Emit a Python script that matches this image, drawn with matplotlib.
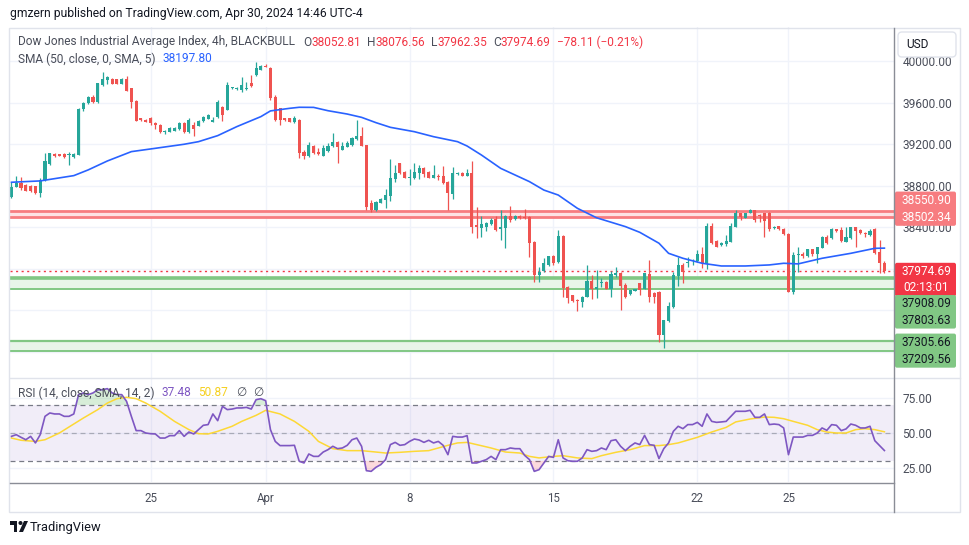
import matplotlib
matplotlib.use('Agg')
import matplotlib.pyplot as plt
import numpy as np
from matplotlib.patches import Rectangle, FancyBboxPatch, Polygon, Circle

plt.rcParams['font.family'] = ['Roboto', 'DejaVu Sans']

W, H = 970, 545

# 4h candles, Dow Jones (BLACKBULL)
open_ = [38694, 38790, 38829, 38806, 38797, 38797, 38726, 38854, 39005, 39108,
         39101, 39101, 39095, 39073, 39095, 39538, 39593, 39650, 39602, 39769,
         39817, 39827, 39824, 39779, 39827, 39737, 39618, 39448, 39432, 39455,
         39400, 39384, 39313, 39320, 39329, 39345, 39400, 39320, 39384, 39378,
         39422, 39442, 39416, 39464, 39560, 39528, 39737, 39727, 39721, 39727,
         39785, 39865, 39914, 39955, 39930, 39657, 39544, 39448, 39448, 39416,
         39432,
         39120, 39085, 39184, 39126, 39088, 39133, 39181, 39223, 39142, 39175,
         39191, 39245, 39277, 39191, 38635, 38565, 38635, 38661, 38700, 38863,
         39014, 38934, 38876, 38876, 38924, 38966, 38934, 38876, 38892, 38892,
         38838, 38719, 38915, 38924, 38895, 38924, 38417, 38395, 38404, 38430,
         38475, 38379, 38395, 38507, 38475, 38507, 38500, 38500, 38260, 37939,
         37981, 38035, 38122, 38064, 38314, 37826, 37746, 37698, 37682, 37730,
         37882, 37802, 37859, 37869, 37802, 37940, 37962, 37843, 37757, 37789,
         37859, 37802, 37949, 37769, 37779, 37362, 37497, 37635, 37933, 38036,
         38058, 38070, 38078, 38142, 38052, 38411, 38267, 38229, 38238, 38261,
         38405, 38540, 38492, 38540, 38566, 38517, 38540, 38540, 38389, 38411,
         38379, 38331, 37779, 38128, 38139, 38126, 38187, 38142, 38203, 38302,
         38293, 38379, 38373, 38261, 38293, 38399, 38373, 38347, 38325, 38379,
         38158, 38052.81]
high = [38838, 38896, 38886, 38815, 38805, 38800, 38870, 39111, 39118, 39115,
        39108, 39110, 39127, 39115, 39545, 39609, 39660, 39670, 39790, 39891,
        39859, 39835, 39830, 39835, 39859, 39740, 39625, 39455, 39440, 39464,
        39416, 39390, 39340, 39365, 39360, 39410, 39410, 39448, 39416, 39430,
        39470, 39490, 39464, 39620, 39570, 39795, 39750, 39750, 39849, 39801,
        39865, 39994, 39965, 39968, 39946, 39673, 39550, 39455, 39455, 39470,
        39440,
        39142, 39216, 39190, 39165, 39191, 39213, 39309, 39230, 39223, 39232,
        39264, 39431, 39361, 39195, 38661, 38650, 38677, 38764, 39053, 38998,
        39020, 38940, 38956, 39020, 38998, 38982, 38940, 38998, 38911, 38992,
        38840, 38982, 38934, 38930, 38960, 39037, 38597, 38507, 38452, 38484,
        38507, 38565, 38517, 38603, 38513, 38517, 38574, 38510, 38265, 38019,
        38099, 38125, 38131, 38372, 38324, 37833, 37750, 37704, 37737, 38035,
        37940, 37988, 37907, 37882, 37978, 38020, 37972, 37859, 37795, 37808,
        37862, 37962, 38084, 37779, 37785, 37510, 37683, 37972, 38116, 38052,
        38116, 38094, 38180, 38213, 38444, 38444, 38277, 38261, 38325, 38437,
        38566, 38540, 38540, 38575, 38566, 38527, 38540, 38550, 38411, 38415,
        38395, 38341, 38164, 38213, 38158, 38190, 38190, 38213, 38318, 38325,
        38389, 38379, 38399, 38399, 38405, 38405, 38379, 38357, 38379, 38389,
        38277, 38076.56]
low = [38678, 38784, 38758, 38745, 38740, 38720, 38694, 38845, 38999, 39080,
       39085, 39066, 38999, 39066, 39090, 39519, 39585, 39595, 39598, 39763,
       39775, 39778, 39775, 39775, 39711, 39544, 39422, 39420, 39410, 39384,
       39345, 39305, 39300, 39315, 39325, 39340, 39310, 39304, 39281, 39370,
       39415, 39438, 39410, 39455, 39422, 39528, 39730, 39720, 39705, 39721,
       39753, 39859, 39910, 39940, 39625, 39422, 39384, 39425, 39410, 39400,
       39063,
       39053, 39078, 39100, 39094, 39088, 39126, 39175, 39014, 39140, 39168,
       39184, 39239, 39181, 38565, 38549, 38560, 38629, 38587, 38651, 38838,
       38911, 38870, 38805, 38863, 38863, 38879, 38870, 38873, 38854, 38812,
       38565, 38667, 38902, 38890, 38892, 38346, 38298, 38308, 38362, 38420,
       38362, 38276, 38202, 38452, 38470, 38475, 38478, 38115, 37875, 37875,
       37971, 38030, 38035, 38058, 37730, 37666, 37676, 37595, 37634, 37730,
       37708, 37715, 37827, 37800, 37731, 37924, 37603, 37715, 37747, 37785,
       37747, 37800, 37676, 37673, 37298, 37240, 37484, 37619, 37837, 37859,
       38020, 38036, 38068, 38010, 37997, 38235, 38206, 38222, 38222, 38261,
       38399, 38469, 38488, 38533, 38453, 38453, 38309, 38367, 38383, 38375,
       38325, 37773, 37753, 37972, 38100, 38110, 38126, 38058, 38196, 38235,
       38283, 38357, 38261, 38254, 38283, 38212, 38335, 38309, 38318, 38139,
       37956, 37962.35]
close = [38790, 38825, 38780, 38752, 38752, 38726, 38854, 39037, 39111, 39085,
         39089, 39073, 39101, 39105, 39538, 39599, 39650, 39602, 39785, 39827,
         39849, 39782, 39779, 39827, 39715, 39609, 39426, 39429, 39416, 39400,
         39384, 39313, 39326, 39358, 39352, 39400, 39320, 39432, 39345, 39422,
         39464, 39480, 39432, 39609, 39480, 39769, 39747, 39743, 39769, 39743,
         39763, 39930, 39955, 39946, 39641, 39432, 39432, 39432, 39416, 39448,
         39111,
         39088, 39191, 39110, 39101, 39159, 39181, 39223, 39168, 39181, 39213,
         39255, 39277, 39184, 38597, 38565, 38645, 38671, 38709, 38870, 38924,
         38924, 38876, 38882, 38934, 38966, 38911, 38876, 38902, 38886, 38828,
         38725, 38918, 38920, 38895, 38924, 38404, 38398, 38430, 38443, 38468,
         38372, 38404, 38507, 38468, 38507, 38484, 38484, 38244, 37939, 37971,
         38051, 38122, 38058, 38314, 37817, 37714, 37692, 37688, 37730, 37881,
         37802, 37821, 37869, 37802, 37949, 37956, 37837, 37731, 37795, 37805,
         37795, 37956, 37731, 37731, 37362, 37506, 37641, 37940, 38036, 37965,
         38068, 38078, 38139, 38052, 38411, 38245, 38212, 38251, 38270, 38411,
         38533, 38501, 38533, 38566, 38469, 38511, 38460, 38379, 38405, 38379,
         38331, 37779, 38132, 38135, 38123, 38187, 38139, 38206, 38302, 38245,
         38379, 38363, 38270, 38309, 38399, 38367, 38341, 38334, 38367, 38148,
         38052.8, 37974.69]

# SMA(50) line, sampled at bar index
sma_idx = [0, 6, 13, 16, 20, 25, 30, 36, 39, 43, 47, 52, 54, 58, 60, 63, 66, 70,
           73, 76, 79, 84, 88, 93, 95, 98, 102, 108, 111, 114, 118, 122, 128,
           131, 135, 137, 140, 144, 148, 153, 158, 161, 164, 169, 175, 180, 182]
sma_val = [38832, 38845, 38896, 38951, 39037, 39127, 39159, 39198, 39223, 39281,
           39368, 39464, 39519, 39544, 39554, 39553, 39521, 39489, 39457, 39406,
           39361, 39319, 39271, 39223, 39181, 39094, 38966, 38838, 38757, 38709,
           38581, 38490, 38405, 38350, 38245, 38148, 38100, 38052, 38026, 38026,
           38036, 38052, 38046, 38100, 38148, 38196, 38197.80]

# RSI(14), one value per bar
rsi = [47.6, 48.8, 46.9, 45.2, 47.6, 42.9, 48.8, 61.9, 64.3, 63.6,
       63.6, 61.9, 61.9, 63.6, 77.4, 78.6, 77.4, 78.6, 80.9, 80.9,
       81.7, 78.6, 77.4, 77.4, 72.6, 61.9, 51.7, 51.7, 50.0, 49.5,
       49.3, 46.4, 46.4, 48.1, 48.1, 51.7, 47.6, 50.7, 49.3, 52.4,
       55.5, 56.0, 63.6, 58.8, 69.0, 66.7, 67.1, 67.9, 67.9, 68.3,
       67.1, 73.8, 74.5, 73.1, 52.4, 44.0, 41.0, 41.0, 41.0, 41.2,
       29.8, 28.6, 35.0, 33.3, 33.3, 36.4, 38.1, 40.5, 38.8, 39.3,
       41.2, 45.2, 46.4, 40.5, 23.1, 22.6, 25.5, 27.4, 31.0, 41.7,
       43.3, 41.2, 41.7, 44.0, 45.7, 45.0, 43.3, 44.8, 42.9, 44.0,
       41.2, 34.5, 47.6, 47.1, 47.1, 48.1, 28.6, 28.6, 29.8, 31.0,
       33.3, 31.0, 38.1, 38.1, 39.3, 38.8, 38.8, 34.0, 31.0, 22.6,
       23.8, 28.6, 33.3, 32.6, 45.2, 32.2, 30.2, 29.8, 29.8, 32.2,
       38.1, 36.9, 37.4, 39.3, 38.1, 44.5, 45.2, 40.5, 37.4, 40.5,
       42.9, 41.7, 48.3, 41.7, 41.2, 31.7, 38.8, 42.9, 51.2, 54.8,
       53.1, 56.0, 56.0, 57.6, 54.8, 63.6, 58.3, 57.6, 57.9, 58.3,
       61.9, 65.5, 65.5, 65.5, 66.2, 61.2, 61.2, 63.6, 56.0, 56.4,
       56.0, 53.6, 34.5, 47.1, 47.1, 47.1, 48.3, 48.3, 50.0, 53.6,
       51.9, 56.0, 55.5, 51.7, 52.9, 56.4, 55.5, 53.6, 53.6, 54.8,
       44.5, 41.0, 37.48]

# SMA(14) of RSI, sampled at bar index
rsi_ma_idx = [0, 2, 5, 7, 10, 12, 15, 18, 20, 22, 24, 26, 28, 31, 34, 37, 39, 41,
              43, 46, 48, 51, 53, 56, 59, 62, 64, 67, 70, 73, 76, 78, 81, 84, 87,
              91, 93, 95, 97, 100, 103, 106, 108, 110, 113, 115, 118, 121, 123,
              126, 129, 132, 135, 137, 139, 143, 146, 149, 151, 154, 157, 159,
              161, 163, 166, 168, 170, 172, 174, 176, 178, 180, 182]
rsi_ma = [46.4, 44.8, 44.0, 45.2, 50.0, 54.3, 60.7, 66.7, 71.4, 74.5, 75.5, 74.5,
          71.4, 65.5, 58.3, 52.4, 49.5, 49.3, 51.2, 54.8, 58.3, 62.6, 66.2, 63.6,
          58.3, 51.2, 44.0, 38.8, 37.4, 37.4, 36.4, 35.7, 36.2, 36.9, 37.4, 41.2,
          42.9, 43.3, 41.7, 39.3, 36.4, 35.7, 33.3, 32.2, 33.3, 33.8, 32.2, 31.7,
          33.8, 36.2, 38.1, 41.0, 41.0, 41.7, 42.9, 46.9, 50.7, 54.0, 57.9, 60.0,
          61.4, 61.2, 60.2, 58.3, 55.5, 52.4, 50.7, 50.0, 50.0, 52.4, 53.1, 52.4,
          50.87]

# drawn levels
resist = [38550.90, 38502.34]
support1 = [37908.09, 37803.63]
support2 = [37305.66, 37209.56]
countdown = '02:13:01'

grid_prices = [37200, 37600, 38000, 38400, 38800, 39200, 39600, 40000]
price_ticks = [38400, 38800, 39200, 39600, 40000]   # the others sit under the price labels
rsi_ticks = [25, 50, 75]
tick_pos = [29, 53, 83, 113, 143, 162]
tick_labels = ['25', 'Apr', '8', '15', '22', '25']

UP = '#26a69a'
DOWN = '#ef5350'
GRID = '#f0f3fa'
TXT = '#4a4e5a'
AXIS = '#8a8d96'
RED = '#f23645'
PINK = '#f77c80'
GREEN = '#81c784'


def fx(x):
    return x / W


def fy(y):
    return 1 - y / H


fig = plt.figure(figsize=(W / 100, H / 100), dpi=100)
fig.patch.set_facecolor('white')

ax = fig.add_axes([fx(10), fy(377), 884 / W, 350 / H])
ax_rsi = fig.add_axes([fx(10), fy(482), 884 / W, 105 / H])

n = len(close)
x = np.arange(n)
o = np.array(open_)
c = np.array(close)
hi = np.array(high)
lo = np.array(low)
col = np.where(c >= o, UP, DOWN)

ax.set_xlim(-0.3, 184.0)
ax.set_ylim(36957, 40327)

for p in grid_prices:
    ax.axhline(p, color=GRID, lw=1, zorder=0)
for t in tick_pos:
    ax.axvline(t, color=GRID, lw=1, zorder=0)

# levels
ax.axhspan(resist[1], resist[0], color='#fde2e4', lw=0, zorder=1)
for v in resist:
    ax.axhline(v, color=PINK, lw=2, zorder=1)
ax.axhspan(support1[1], support1[0], color='#e8f5e9', lw=0, zorder=1)
ax.axhline(support1[0], color=GREEN, lw=2.6, zorder=1)
ax.axhline(support1[1], color=GREEN, lw=1.4, zorder=1)
ax.axhspan(support2[1], support2[0], color='#e8f5e9', lw=0, zorder=1)
ax.axhline(support2[0], color=GREEN, lw=1.6, zorder=1)
ax.axhline(support2[1], color=GREEN, lw=1.4, zorder=1)
ax.axhline(close[-1], color=RED, lw=1, ls=(0, (1.5, 2.5)), zorder=1)

# candles
ax.vlines(x, lo, hi, colors=col, lw=0.9, zorder=2)
body = np.maximum(np.abs(c - o), 9)
ax.bar(x, body, bottom=np.minimum(o, c), width=0.64, color=col, lw=0, zorder=2)

ax.plot(sma_idx, sma_val, color='#2962ff', lw=1.2, zorder=3)

ax.yaxis.tick_right()
ax.set_yticks(price_ticks)
ax.set_yticklabels([f'{p:.2f}' for p in price_ticks])
ax.tick_params(axis='y', length=0, pad=6, labelsize=8.6, labelcolor=TXT)
ax.set_xticks([])
for s in ax.spines.values():
    s.set_visible(False)

# RSI pane
r = np.array(rsi)
ax_rsi.set_xlim(-0.3, 184.0)
ax_rsi.set_ylim(15, 90)
for t in tick_pos:
    ax_rsi.axvline(t, color=GRID, lw=1, zorder=0)
for v in rsi_ticks:
    ax_rsi.axhline(v, color=GRID, lw=1, zorder=0)
ax_rsi.axhspan(30, 70, color='#7e57c2', alpha=0.1, lw=0, zorder=1)
ax_rsi.axhline(70, color='#787b86', lw=0.9, ls=(0, (4, 3)), zorder=1)
ax_rsi.axhline(50, color='#787b86', lw=0.9, ls=(0, (4, 3)), alpha=0.55, zorder=1)
ax_rsi.axhline(30, color='#787b86', lw=0.9, ls=(0, (4, 3)), zorder=1)
ax_rsi.fill_between(x, 70, r, where=r > 70, interpolate=True, color='#4caf50', alpha=0.22, lw=0, zorder=1)
ax_rsi.fill_between(x, 30, r, where=r < 30, interpolate=True, color=RED, alpha=0.18, lw=0, zorder=1)
ax_rsi.plot(rsi_ma_idx, rsi_ma, color='#fdd835', lw=1.1, zorder=2)
ax_rsi.plot(x, r, color='#7e57c2', lw=1.2, zorder=3)

ax_rsi.yaxis.tick_right()
ax_rsi.set_yticks(rsi_ticks)
ax_rsi.set_yticklabels([f'{v:.2f}' for v in rsi_ticks])
ax_rsi.tick_params(axis='y', length=0, pad=6, labelsize=8.6, labelcolor=TXT)
ax_rsi.set_xticks(tick_pos)
ax_rsi.set_xticklabels(tick_labels)
ax_rsi.tick_params(axis='x', length=0, pad=7, labelsize=8.3, labelcolor=TXT)
for s in ax_rsi.spines.values():
    s.set_visible(False)

# overlay in pixel coords for frame, price labels and legend
ov = fig.add_axes([0, 0, 1, 1], zorder=10)
ov.set_xlim(0, W)
ov.set_ylim(H, 0)
ov.axis('off')

ov.add_patch(Rectangle((9.5, 27.5), 951, 484, fill=False, ec='#e0e3eb', lw=1))
ov.plot([10, 960], [377.5, 377.5], color='#e0e3eb', lw=1)
ov.plot([894.5, 894.5], [27.5, 511.5], color=AXIS, lw=1)
ov.plot([10, 894.5], [482.5, 482.5], color=AXIS, lw=1)

ov.add_patch(FancyBboxPatch((898, 32), 58, 25, boxstyle='round,pad=0,rounding_size=4',
                            fc='white', ec='#e0e3eb', lw=1))
ov.text(917, 44.5, 'USD', ha='center', va='center', fontsize=8.6, color='#131722')


def ypx(v):
    return H - ax.transData.transform((0, v))[1]


def label_box(labels, fc, tc):
    ys = [ypx(v) + off for v, _, off in labels]
    top, bot = min(ys) - 8.5, max(ys) + 8.5
    ov.add_patch(FancyBboxPatch((895, top), 61, bot - top,
                                boxstyle='round,pad=0,rounding_size=2', fc=fc, ec='none'))
    for (v, s, off), yy in zip(labels, ys):
        ov.text(926, yy, s, ha='center', va='center', fontsize=8.6, color=tc)


label_box([(resist[0], f'{resist[0]:.2f}', -11.4), (resist[1], f'{resist[1]:.2f}', 0.8)], PINK, 'white')
label_box([(close[-1], f'{close[-1]:.2f}', 0), (close[-1], countdown, 16.5)], RED, 'white')
label_box([(support1[0], f'{support1[0]:.2f}', 25.3), (support1[1], f'{support1[1]:.2f}', 31)], GREEN, '#131722')
label_box([(support2[0], f'{support2[0]:.2f}', 1.3), (support2[1], f'{support2[1]:.2f}', 8.4)], GREEN, '#131722')

renderer = fig.canvas.get_renderer()


def text_row(x0, y, parts, size=8.6):
    xp = x0
    for s, color, gap in parts:
        t = ov.text(xp, y, s, color=color, fontsize=size, ha='left', va='center',
                    family=['Roboto', 'DejaVu Sans'])
        bb = t.get_window_extent(renderer=renderer)
        xp += bb.width + gap


chg = close[-1] - close[-2]
pct = chg / close[-2] * 100
text_row(10, 14, [('gmzern published on TradingView.com, Apr 30, 2024 14:46 UTC-4', '#131722', 0)], size=8.7)
text_row(18, 42, [('Dow Jones Industrial Average Index, 4h, BLACKBULL', TXT, 8),
                  ('O', TXT, 0), (f'{open_[-1]:.2f}', RED, 6),
                  ('H', TXT, 0), (f'{high[-1]:.2f}', RED, 6),
                  ('L', TXT, 0), (f'{low[-1]:.2f}', RED, 6),
                  ('C', TXT, 0), (f'{close[-1]:.2f}', RED, 6),
                  (f'{chg:.2f} ({pct:.2f}%)'.replace('-', '\u2212'), RED, 0)])
text_row(18, 59, [('SMA (50, close, 0, SMA, 5)', TXT, 7), (f'{sma_val[-1]:.2f}', '#2962ff', 0)])
text_row(18, 393, [('RSI (14, close, SMA, 14, 2)', TXT, 7), (f'{rsi[-1]:.2f}', '#7e57c2', 7),
                   (f'{rsi_ma[-1]:.2f}', '#f5d020', 8), ('\u2205', TXT, 7), ('\u2205', TXT, 0)])

# TradingView logo
ov.add_patch(Polygon([(10, 521), (17.5, 521), (17.5, 532), (14, 532), (14, 525), (10, 525)],
                     closed=True, fc='#131722', ec='none'))
ov.add_patch(Circle((20.5, 523), 2, fc='#131722', ec='none'))
ov.add_patch(Polygon([(24, 521), (28, 521), (23, 532), (19, 532)], closed=True, fc='#131722', ec='none'))
ov.text(30, 527, 'TradingView', ha='left', va='center', fontsize=9.3, color='#131722')

fig.savefig('out.png', dpi=100, facecolor='white')
